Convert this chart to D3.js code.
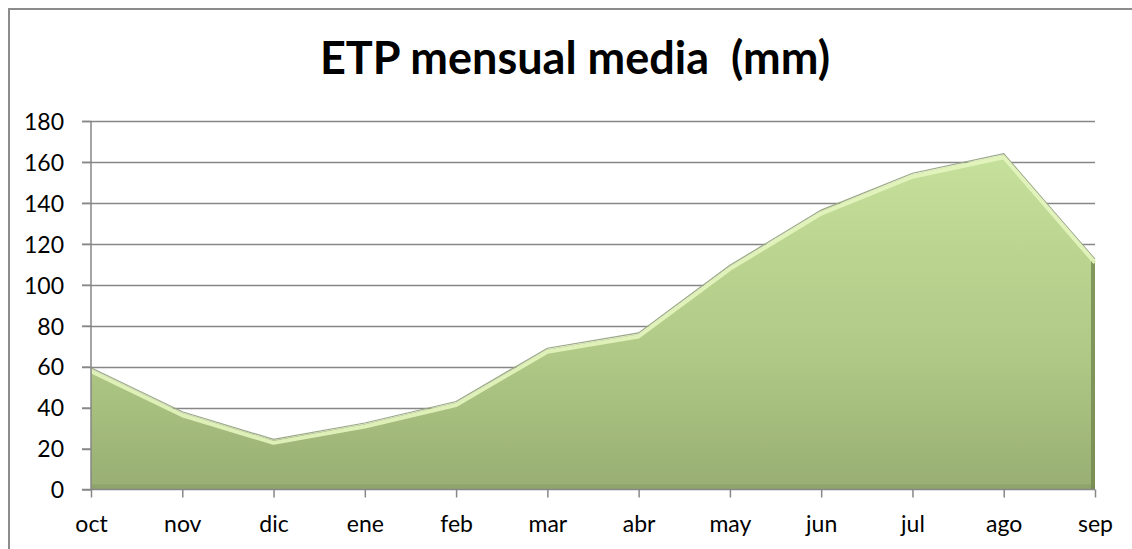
<!DOCTYPE html>
<html>
<head>
<meta charset="utf-8">
<script src="https://cdn.jsdelivr.net/npm/d3@7"></script>
<style>
  html, body { margin: 0; background: #fff; overflow: hidden; }
  svg { display: block; }
  text { font-family: Lato, "Open Sans", sans-serif; }
</style>
</head>
<body>
<div id="chart"></div>
<script>
var w = 1132;
var h = 549;

var months = ["oct", "nov", "dic", "ene", "feb", "mar", "abr", "may", "jun", "jul", "ago", "sep"];
var etp = [59, 37.5, 24, 32, 42.5, 68.5, 76, 109, 136, 154, 163.5, 112];
var yTicks = [0, 20, 40, 60, 80, 100, 120, 140, 160, 180];

var plotLeft = 91, plotRight = 1095, plotTop = 121, plotBottom = 489.5;

var xScale = d3.scalePoint()
    .domain(months)
    .range([plotLeft, plotRight]);

var yScale = d3.scaleLinear()
    .domain([0, 180])
    .range([plotBottom, plotTop]);

var svg = d3.select("#chart")
    .append("svg")
    .attr("width", w)
    .attr("height", h);

// gradient for the area
var defs = svg.append("defs");
var grad = defs.append("linearGradient")
    .attr("id", "fillGrad")
    .attr("gradientUnits", "userSpaceOnUse")
    .attr("x1", 0).attr("y1", yScale(165))
    .attr("x2", 0).attr("y2", plotBottom);
grad.append("stop").attr("offset", "0%").attr("stop-color", "#c6e19c");
grad.append("stop").attr("offset", "60%").attr("stop-color", "#b0c986");
grad.append("stop").attr("offset", "100%").attr("stop-color", "#98ae73");

// outer border (right and bottom edges lie outside the picture)
svg.append("path")
    .attr("d", "M9," + h + "V9H" + w)
    .attr("fill", "none")
    .attr("stroke", "#8c8c8c")
    .attr("stroke-width", 2);

// title
svg.append("text")
    .attr("x", 575)
    .attr("y", 74)
    .attr("text-anchor", "middle")
    .attr("font-size", "45px")
    .attr("font-weight", "bold")
    .attr("fill", "#000")
    .attr("xml:space", "preserve")
    .text("ETP mensual media  (mm)");

// grid lines
svg.append("g")
    .selectAll("line")
    .data(yTicks.filter(function (d) { return d > 0; }))
    .enter()
    .append("line")
    .attr("x1", plotLeft - 9)
    .attr("x2", plotRight)
    .attr("y1", function (d) { return Math.round(yScale(d)) + 0.5; })
    .attr("y2", function (d) { return Math.round(yScale(d)) + 0.5; })
    .attr("stroke", "#878787")
    .attr("stroke-width", 1.5);

// area
var area = d3.area()
    .x(function (d, i) { return xScale(months[i]); })
    .y0(plotBottom)
    .y1(function (d) { return yScale(d); });

var line = d3.line()
    .x(function (d, i) { return xScale(months[i]); })
    .y(function (d) { return yScale(d); });

svg.append("path")
    .datum(etp)
    .attr("d", area)
    .attr("fill", "url(#fillGrad)");

// darker bottom and right edges (bevel)
svg.append("rect")
    .attr("x", plotLeft).attr("y", plotBottom - 5)
    .attr("width", plotRight - plotLeft).attr("height", 5)
    .attr("fill", "#8a9e69").attr("opacity", 0.7);
svg.append("rect")
    .attr("x", plotRight - 4).attr("y", yScale(etp[etp.length - 1]))
    .attr("width", 4).attr("height", plotBottom - yScale(etp[etp.length - 1]))
    .attr("fill", "#74884f").attr("opacity", 0.8);

// highlight along top edge
svg.append("path")
    .datum(etp)
    .attr("d", line)
    .attr("fill", "none")
    .attr("stroke", "#9aa886")
    .attr("stroke-width", 1.2)
    .attr("transform", "translate(0,-1)");
svg.append("path")
    .datum(etp)
    .attr("d", line)
    .attr("fill", "none")
    .attr("stroke", "#e4f5bf")
    .attr("stroke-width", 4)
    .attr("stroke-linejoin", "round")
    .attr("transform", "translate(0,2.5)")
    .attr("opacity", 0.9);

// y axis
var yAxis = d3.axisLeft(yScale)
    .tickValues(yTicks)
    .tickSize(9)
    .tickPadding(18);

var gy = svg.append("g")
    .attr("transform", "translate(" + plotLeft + ",0)")
    .call(yAxis);
gy.select(".domain").attr("stroke", "#878787").attr("stroke-width", 1.5)
    .attr("d", "M-9," + plotBottom + "H0V" + plotTop);
gy.selectAll(".tick line").attr("stroke", "#878787").attr("stroke-width", 1.5);
gy.selectAll("text")
    .attr("font-size", "23px")
    .attr("fill", "#000")
    .attr("dy", "0.36em")
    .attr("font-family", "Lato, 'Open Sans', sans-serif");

// x axis
var xAxis = d3.axisBottom(xScale)
    .tickSize(8)
    .tickPadding(18);

var gx = svg.append("g")
    .attr("transform", "translate(0," + plotBottom + ")")
    .call(xAxis);
gx.select(".domain").attr("stroke", "#878787").attr("stroke-width", 1.5)
    .attr("d", "M" + plotLeft + ",0H" + plotRight);
gx.selectAll(".tick line").attr("stroke", "#878787").attr("stroke-width", 1.5);
gx.selectAll("text")
    .attr("font-size", "23px")
    .attr("fill", "#000")
    .attr("font-family", "Lato, 'Open Sans', sans-serif");
</script>
</body>
</html>
